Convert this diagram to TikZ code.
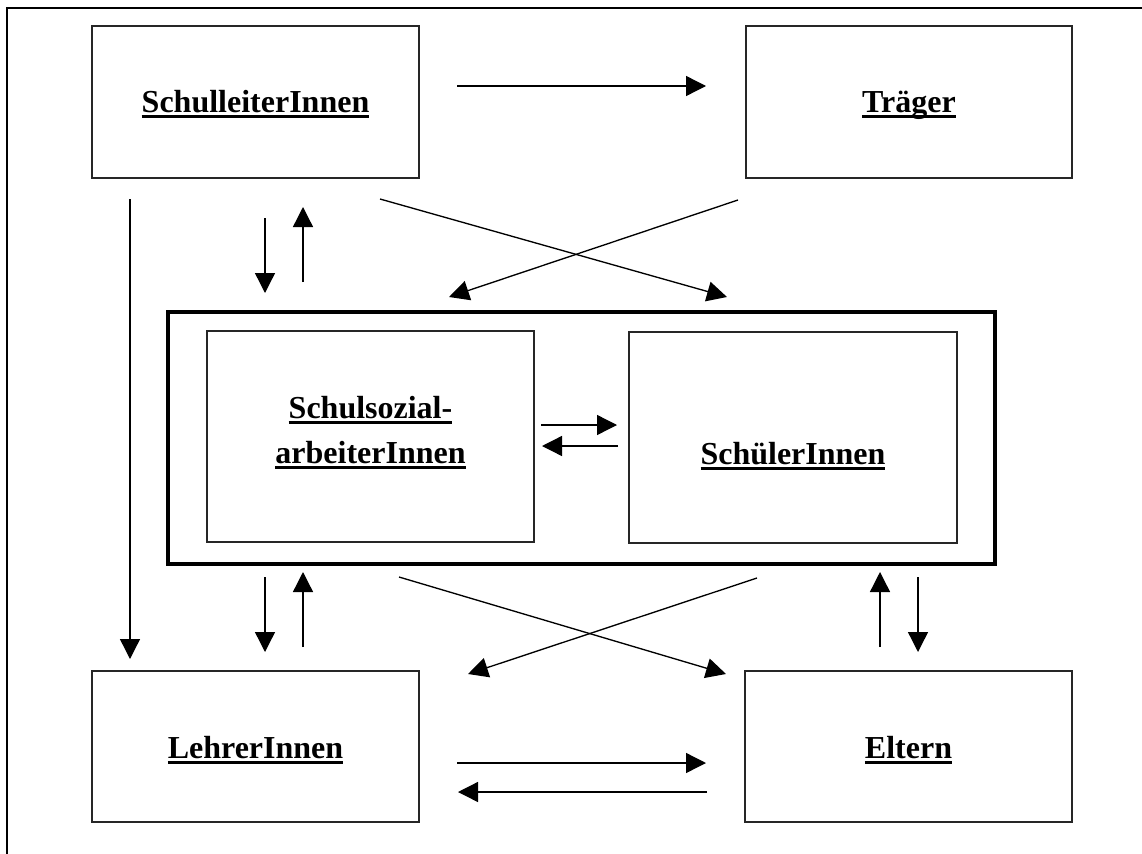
\documentclass[tikz,border=0pt]{standalone}
\usepackage{fontspec}
\setmainfont{Liberation Serif}
\usetikzlibrary{arrows.meta}
\newsavebox{\ulsave}
\newcommand{\ulbox}[1]{\sbox{\ulsave}{#1}\rlap{\rule[-4.6pt]{\wd\ulsave}{2.6pt}}\usebox{\ulsave}}
\tikzset{
  box/.style={draw=black!85, line width=1pt, fill=none},
  bigbox/.style={draw=black, line width=2.5pt},
  lbl/.style={inner sep=0pt, anchor=base, font=\fontsize{24}{34}\selectfont\bfseries, align=center},
  arr/.style={line width=1pt, -{Triangle[length=15pt,width=15pt]}}
}
\begin{document}
\begin{tikzpicture}[x=0.75pt,y=-0.75pt]
\useasboundingbox (0,0) rectangle (1142,853);
% outer frame (only top and left visible)
\draw[line width=1.5pt] (7,860) -- (7,8) -- (1150,8);
% boxes
\draw[box] (92,26) rectangle (419,178) node[pos=0.5, inner sep=0] (sl) {};
\draw[box] (746,26) rectangle (1072,178) node[pos=0.5, inner sep=0] (tr) {};
\draw[bigbox] (168,312) rectangle (995,564) node[pos=0.5, inner sep=0] (mid) {};
\draw[box] (207,331) rectangle (534,542) node[pos=0.5, inner sep=0] (ss) {};
\draw[box] (629,332) rectangle (957,543) node[pos=0.5, inner sep=0] (sch) {};
\draw[box] (92,671) rectangle (419,822) node[pos=0.5, inner sep=0] (le) {};
\draw[box] (745,671) rectangle (1072,822) node[pos=0.5, inner sep=0] (el) {};
% labels
\node[lbl] (tsl) at (255.5,112) {\ulbox{SchulleiterInnen}};
\node[lbl] (ttr) at (909,112) {\ulbox{Träger}};
\node[lbl] (tss1) at (370.5,418) {\ulbox{Schulsozial-}};
\node[lbl] (tss2) at (370.5,463) {\ulbox{arbeiterInnen}};
\node[lbl] (tsch) at (793,464) {\ulbox{SchülerInnen}};
\node[lbl] (tle) at (255.5,758) {\ulbox{LehrerInnen}};
\node[lbl] (tel) at (908.5,758) {\ulbox{Eltern}};
% arrow end points
\coordinate (a1s) at (457,86);  \coordinate (a1e) at (706,86);
\coordinate (a2s) at (130,199); \coordinate (a2e) at (130,659);
\coordinate (a3s) at (265,218); \coordinate (a3e) at (265,293);
\coordinate (a4s) at (303,282); \coordinate (a4e) at (303,207);
\coordinate (a5s) at (380,199); \coordinate (a5e) at (727,297);
\coordinate (a6s) at (738,200); \coordinate (a6e) at (449,297);
\coordinate (a7s) at (541,425); \coordinate (a7e) at (617,425);
\coordinate (a8s) at (618,446); \coordinate (a8e) at (542,446);
\coordinate (a9s) at (265,577); \coordinate (a9e) at (265,652);
\coordinate (a10s) at (303,647); \coordinate (a10e) at (303,572);
\coordinate (a11s) at (399,577); \coordinate (a11e) at (726,674);
\coordinate (a12s) at (757,578); \coordinate (a12e) at (468,674);
\coordinate (a13s) at (880,647); \coordinate (a13e) at (880,572);
\coordinate (a14s) at (918,577); \coordinate (a14e) at (918,652);
\coordinate (a15s) at (457,763); \coordinate (a15e) at (706,763);
\coordinate (a16s) at (707,792); \coordinate (a16e) at (458,792);
\foreach \i in {1,...,16}{\draw[arr] (a\i s) -- (a\i e);}
\end{tikzpicture}
\end{document}
